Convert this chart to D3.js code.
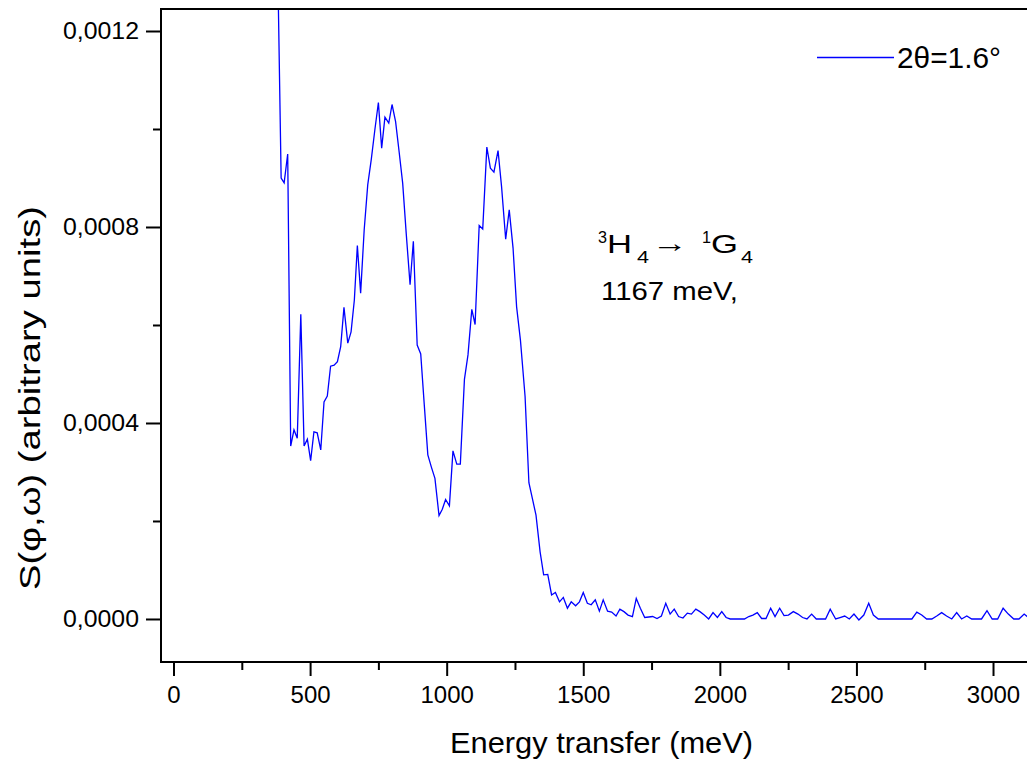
<!DOCTYPE html>
<html>
<head>
<meta charset="utf-8">
<script src="https://cdn.jsdelivr.net/npm/d3@7"></script>
<style>
  body { margin: 0; background: #fff; }
  text { font-family: "Liberation Sans", Arial, sans-serif; fill: #000; }
</style>
</head>
<body>
<div id="chart"></div>
<script>
// energy transfer (meV)
var energy = [381, 394, 405, 418, 429, 441, 453, 466, 478, 490, 502, 514, 526, 539, 551, 563, 575, 588, 600, 612,
  624, 638, 650, 662, 673, 685, 698, 711, 724, 737, 750, 762, 774, 788, 800, 813, 826, 839, 852, 866,
  878, 892, 905, 918, 931, 944, 957, 972, 984, 996, 1010, 1023, 1037, 1050, 1065, 1078, 1092, 1104, 1119, 1132,
  1147, 1160, 1173, 1188, 1201, 1216, 1229, 1243, 1256, 1270, 1287, 1301, 1314, 1327, 1342, 1355, 1370, 1384, 1398, 1413,
  1427, 1442, 1456, 1472, 1486, 1500, 1515, 1529, 1544, 1559, 1573, 1589, 1604, 1620, 1634, 1649, 1664, 1680, 1694, 1709,
  1725, 1740, 1754, 1770, 1786, 1802, 1818, 1833, 1849, 1865, 1881, 1896, 1912, 1927, 1943, 1959, 1975, 1991, 2007, 2023,
  2038, 2054, 2070, 2090, 2106, 2121, 2137, 2153, 2169, 2186, 2202, 2219, 2235, 2251, 2269, 2286, 2303, 2319, 2336, 2353,
  2370, 2387, 2404, 2424, 2440, 2457, 2474, 2491, 2509, 2527, 2545, 2562, 2580, 2598, 2616, 2634, 2653, 2669, 2687, 2703,
  2721, 2739, 2757, 2776, 2794, 2812, 2830, 2849, 2867, 2885, 2904, 2922, 2940, 2958, 2978, 2997, 3017, 3037, 3056, 3076,
  3095, 3114, 3132];

// S(phi,omega), 2theta = 1.6 deg
var intensity = [0.00135, 0.000900, 0.000890, 0.000949, 0.000353, 0.000386, 0.000369, 0.000622, 0.000353, 0.000367,
  0.000323, 0.000382, 0.000380, 0.000345, 0.000443, 0.000455, 0.000516, 0.000518, 0.000525, 0.000556,
  0.000636, 0.000563, 0.000586, 0.000651, 0.000762, 0.000665, 0.000794, 0.000886, 0.000938, 0.000998,
  0.001054, 0.000961, 0.001024, 0.001012, 0.001050, 0.001015, 0.000953, 0.000889, 0.000786, 0.000682,
  0.000771, 0.000559, 0.000541, 0.000437, 0.000335, 0.000310, 0.000287, 0.000211, 0.000224, 0.000244,
  0.000231, 0.000343, 0.000316, 0.000316, 0.000489, 0.000539, 0.000632, 0.000601, 0.000803, 0.000796,
  0.000963, 0.000920, 0.000912, 0.000956, 0.000882, 0.000775, 0.000835, 0.000757, 0.000637, 0.000569,
  0.000454, 0.000278, 0.000245, 0.000212, 0.000137, 0.000090, 0.000091, 0.000049, 0.000054, 0.000035,
  0.000044, 0.000022, 0.000035, 0.000027, 0.000035, 0.000054, 0.000032, 0.000029, 0.000039, 0.000016,
  0.000039, 0.000016, 0.000014, 0.000006, 0.000020, 0.000015, 0.000008, 0.000005, 0.000042, 0.000022,
  0.000003, 0.000004, 0.000005, 0.000001, 0.000006, 0.000032, 0.000010, 0.000020, 0.000005, 0.000002,
  0.000012, 0.000010, 0.000020, 0.000015, 0.000008, 0.000000, 0.000013, 0.000003, 0.000015, 0.000003,
  0.000000, 0.000000, 0.000000, 0.000000, 0.000005, 0.000008, 0.000013, 0.000001, 0.000001, 0.000022,
  0.000005, 0.000022, 0.000007, 0.000008, 0.000015, 0.000010, 0.000003, 0.000000, 0.000010, 0.000000,
  0.000000, 0.000000, 0.000020, 0.000000, 0.000003, 0.000006, 0.000000, 0.000010, -0.000002, 0.000008,
  0.000032, 0.000008, 0.000000, 0.000000, 0.000000, 0.000000, 0.000000, 0.000000, 0.000000, 0.000000,
  0.000014, 0.000008, 0.000000, 0.000000, 0.000006, 0.000013, 0.000006, 0.000000, 0.000013, 0.000000,
  0.000006, 0.000000, 0.000000, 0.000000, 0.000017, 0.000000, 0.000000, 0.000022, 0.000010, 0.000000,
  0.000000, 0.000010, 0.000002];

var xTicks = [0, 500, 1000, 1500, 2000, 2500, 3000];
var xMinor = [250, 750, 1250, 1750, 2250, 2750];
var yTicks = [0, 0.0004, 0.0008, 0.0012];
var yMinor = [0.0002, 0.0006, 0.001];
var seriesName = "2θ=1.6°";

var width = 1027, height = 764;
var plotL = 161, plotT = 9, plotR = 1040, plotB = 662;

var svg = d3.select('#chart').append('svg')
  .attr('width', width)
  .attr('height', height);

var x = d3.scaleLinear().domain([-45.8, 3172]).range([plotL, plotR]);
var y = d3.scaleLinear().domain([-0.0000878, 0.0012449]).range([plotB, plotT]);

var fmtY = function(d) { return d3.format('.4f')(d).replace('.', ','); };

svg.append('clipPath').attr('id', 'plotclip')
  .append('rect')
  .attr('x', plotL).attr('y', plotT)
  .attr('width', plotR - plotL).attr('height', plotB - plotT);

var points = energy.map(function(e, i) { return [e, intensity[i]]; });

var line = d3.line()
  .x(function(d) { return x(d[0]); })
  .y(function(d) { return y(d[1]); });

svg.append('path')
  .datum(points)
  .attr('clip-path', 'url(#plotclip)')
  .attr('d', line)
  .attr('fill', 'none')
  .attr('stroke', '#0000ff')
  .attr('stroke-width', 1.3);

// frame
svg.append('rect')
  .attr('x', plotL).attr('y', plotT)
  .attr('width', plotR - plotL).attr('height', plotB - plotT)
  .attr('fill', 'none')
  .attr('stroke', '#000')
  .attr('stroke-width', 2);

// x axis
var xAxis = svg.append('g')
  .attr('transform', 'translate(0,' + plotB + ')')
  .call(d3.axisBottom(x).tickValues(xTicks).tickSize(14).tickPadding(10).tickFormat(d3.format('d')));
xAxis.select('.domain').remove();
xAxis.attr('font-family', null).attr('font-size', 24);
xAxis.selectAll('line').attr('stroke-width', 2);

var xAxisMinor = svg.append('g')
  .attr('transform', 'translate(0,' + plotB + ')')
  .call(d3.axisBottom(x).tickValues(xMinor).tickSize(8).tickFormat(''));
xAxisMinor.select('.domain').remove();
xAxisMinor.selectAll('line').attr('stroke-width', 2);

// y axis
var yAxis = svg.append('g')
  .attr('transform', 'translate(' + plotL + ',0)')
  .call(d3.axisLeft(y).tickValues(yTicks).tickSize(15).tickPadding(7).tickFormat(fmtY));
yAxis.select('.domain').remove();
yAxis.attr('font-family', null).attr('font-size', 23);
yAxis.selectAll('line').attr('stroke-width', 2);
yAxis.selectAll('text').attr('textLength', 76).attr('lengthAdjust', 'spacingAndGlyphs');

var yAxisMinor = svg.append('g')
  .attr('transform', 'translate(' + plotL + ',0)')
  .call(d3.axisLeft(y).tickValues(yMinor).tickSize(8).tickFormat(''));
yAxisMinor.select('.domain').remove();
yAxisMinor.selectAll('line').attr('stroke-width', 2);

// axis titles
svg.append('text')
  .attr('x', 450).attr('y', 753)
  .attr('textLength', 303).attr('lengthAdjust', 'spacingAndGlyphs')
  .style('font-size', '29px')
  .text('Energy transfer (meV)');

svg.append('text')
  .attr('transform', 'translate(40,590) rotate(-90)')
  .attr('textLength', 384).attr('lengthAdjust', 'spacingAndGlyphs')
  .style('font-size', '29px')
  .text('S(φ,ω) (arbitrary units)');

// legend
svg.append('line')
  .attr('x1', 817).attr('x2', 894)
  .attr('y1', 57.5).attr('y2', 57.5)
  .attr('stroke', '#0000ff')
  .attr('stroke-width', 1.3);
svg.append('text')
  .attr('x', 897).attr('y', 68)
  .attr('textLength', 104).attr('lengthAdjust', 'spacingAndGlyphs')
  .style('font-size', '29px')
  .text(seriesName);

// transition annotation: 3H4 -> 1G4
var annParts = [
  { t: '3', x: 598, y: 243, fs: 16, w: 9 },
  { t: 'H', x: 607, y: 253, fs: 26, w: 25 },
  { t: '4', x: 637, y: 263, fs: 17, w: 12 },
  { t: '→', x: 652, y: 252, fs: 26, w: 36 },
  { t: '1', x: 702, y: 243, fs: 16, w: 9 },
  { t: 'G', x: 711, y: 253, fs: 26, w: 27 },
  { t: '4', x: 741, y: 263, fs: 17, w: 12 }
];
svg.selectAll('.ann').data(annParts).enter().append('text')
  .attr('class', 'ann')
  .attr('x', function(d) { return d.x; })
  .attr('y', function(d) { return d.y; })
  .attr('textLength', function(d) { return d.w; })
  .attr('lengthAdjust', 'spacingAndGlyphs')
  .style('font-size', function(d) { return d.fs + 'px'; })
  .text(function(d) { return d.t; });

svg.append('text')
  .attr('x', 601).attr('y', 300)
  .attr('textLength', 137).attr('lengthAdjust', 'spacingAndGlyphs')
  .style('font-size', '25px')
  .text('1167 meV,');
</script>
</body>
</html>
